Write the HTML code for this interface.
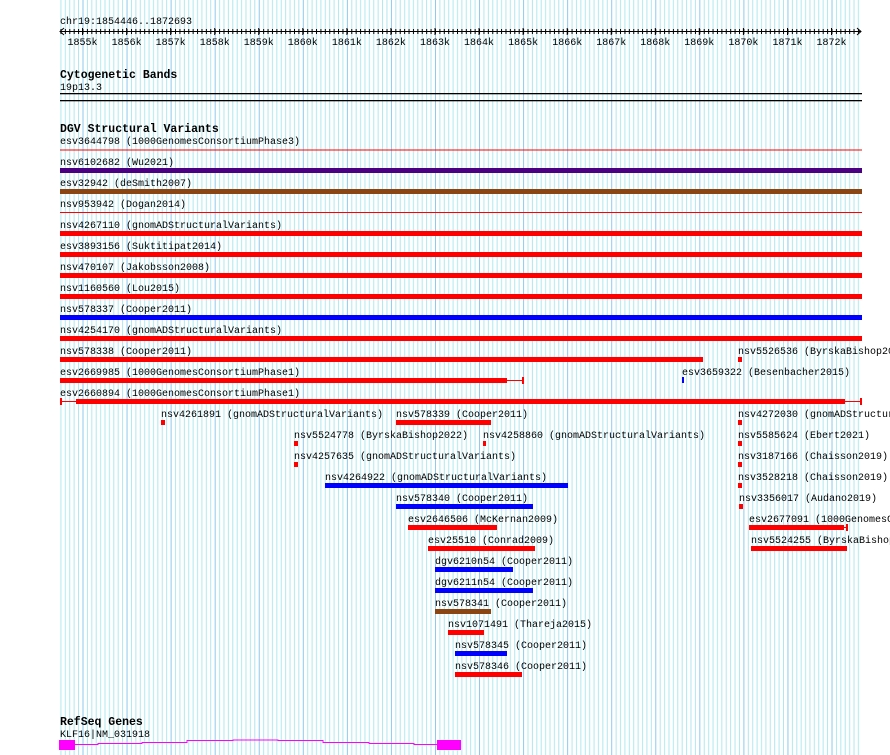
<!DOCTYPE html>
<html><head><meta charset="utf-8"><style>
html,body{margin:0;padding:0;background:#fff;}
svg{display:block;}
text{font-family:"Liberation Mono","DejaVu Sans Mono",monospace;font-size:10px;fill:#000;}
.b{font-weight:bold;font-size:11.5px;}
</style></head><body>
<svg width="890" height="755" viewBox="0 0 890 755" xmlns="http://www.w3.org/2000/svg">
<defs>
<pattern id="g" patternUnits="userSpaceOnUse" x="82.5" y="0" width="44.06" height="10">
<g stroke="#aee8ee" stroke-width="1">
<line x1="4.9" y1="0" x2="4.9" y2="10"/><line x1="9.3" y1="0" x2="9.3" y2="10"/><line x1="13.7" y1="0" x2="13.7" y2="10"/><line x1="18.1" y1="0" x2="18.1" y2="10"/><line x1="22.5" y1="0" x2="22.5" y2="10"/><line x1="26.9" y1="0" x2="26.9" y2="10"/><line x1="31.3" y1="0" x2="31.3" y2="10"/><line x1="35.7" y1="0" x2="35.7" y2="10"/><line x1="40.1" y1="0" x2="40.1" y2="10"/>
</g>
<line x1="0.5" y1="0" x2="0.5" y2="10" stroke="#8cc8ee" stroke-width="1"/>
</pattern>
<pattern id="tkp" patternUnits="userSpaceOnUse" x="82.5" y="29" width="4.406" height="5"><line x1="0.5" y1="0" x2="0.5" y2="5" stroke="#000"/></pattern>
</defs>
<rect x="60" y="0" width="800" height="755" fill="url(#g)"/>

<!-- ruler -->
<text x="60" y="24">chr19:1854446..1872693</text>
<line x1="60" y1="31.5" x2="861" y2="31.5" stroke="#000"/>
<path d="M64 28 L60 31.5 L64 35 M857 28 L861 31.5 L857 35" stroke="#000" fill="none"/>
<rect x="60" y="29" width="800" height="5" fill="url(#tkp)"/>
<path stroke="#000" d="M82.5 28v7M126.6 28v7M170.6 28v7M214.7 28v7M258.7 28v7M302.8 28v7M346.9 28v7M390.9 28v7M435 28v7M479 28v7M523.1 28v7M567.2 28v7M611.2 28v7M655.3 28v7M699.3 28v7M743.4 28v7M787.5 28v7M831.5 28v7"/>
<g font-size="10" text-anchor="middle">
<text x="82.5" y="45">1855k</text><text x="126.6" y="45">1856k</text><text x="170.6" y="45">1857k</text><text x="214.7" y="45">1858k</text><text x="258.7" y="45">1859k</text><text x="302.8" y="45">1860k</text><text x="346.9" y="45">1861k</text><text x="390.9" y="45">1862k</text><text x="435" y="45">1863k</text><text x="479" y="45">1864k</text><text x="523.1" y="45">1865k</text><text x="567.2" y="45">1866k</text><text x="611.2" y="45">1867k</text><text x="655.3" y="45">1868k</text><text x="699.3" y="45">1869k</text><text x="743.4" y="45">1870k</text><text x="787.5" y="45">1871k</text><text x="831.5" y="45">1872k</text>
</g>

<text class="b" x="60" y="78">Cytogenetic Bands</text>
<text x="60" y="90">19p13.3</text>
<rect x="60" y="93" width="802" height="1.3" fill="#000"/>
<rect x="60" y="100" width="802" height="1.3" fill="#000"/>

<text class="b" x="60" y="132">DGV Structural Variants</text>
<g>
<text x="60" y="144">esv3644798 (1000GenomesConsortiumPhase3)</text>
<rect x="60" y="149.5" width="802" height="1" fill="#f00"/>
<text x="60" y="165">nsv6102682 (Wu2021)</text>
<rect x="60" y="168" width="802" height="5" fill="#4b0082"/>
<text x="60" y="186">esv32942 (deSmith2007)</text>
<rect x="60" y="189" width="802" height="5" fill="#8b4513"/>
<text x="60" y="207">nsv953942 (Dogan2014)</text>
<rect x="60" y="212" width="802" height="1" fill="#f00"/>
<text x="60" y="228">nsv4267110 (gnomADStructuralVariants)</text>
<rect x="60" y="231" width="802" height="5" fill="#f00"/>
<text x="60" y="249">esv3893156 (Suktitipat2014)</text>
<rect x="60" y="252" width="802" height="5" fill="#f00"/>
<text x="60" y="270">nsv470107 (Jakobsson2008)</text>
<rect x="60" y="273" width="802" height="5" fill="#f00"/>
<text x="60" y="291">nsv1160560 (Lou2015)</text>
<rect x="60" y="294" width="802" height="5" fill="#f00"/>
<text x="60" y="312">nsv578337 (Cooper2011)</text>
<rect x="60" y="315" width="802" height="5" fill="#00f"/>
<text x="60" y="333">nsv4254170 (gnomADStructuralVariants)</text>
<rect x="60" y="336" width="802" height="5" fill="#f00"/>

<text x="60" y="354">nsv578338 (Cooper2011)</text>
<rect x="60" y="357" width="643" height="5" fill="#f00"/>
<text x="738" y="354">nsv5526536 (ByrskaBishop2022)</text>
<rect x="738" y="357" width="4" height="5" fill="#f00"/>

<text x="60" y="375">esv2669985 (1000GenomesConsortiumPhase1)</text>
<rect x="60" y="378" width="447" height="5" fill="#f00"/>
<rect x="507" y="380" width="16" height="1" fill="#f00"/><rect x="522" y="377" width="2" height="7" fill="#f00"/>
<text x="682" y="375">esv3659322 (Besenbacher2015)</text>
<rect x="682" y="377" width="2" height="6" fill="#00f"/>

<text x="60" y="396">esv2660894 (1000GenomesConsortiumPhase1)</text>
<rect x="60" y="398" width="2" height="7" fill="#f00"/><rect x="60" y="401" width="16" height="1" fill="#f00"/>
<rect x="76" y="399" width="769" height="5" fill="#f00"/>
<rect x="845" y="401" width="16" height="1" fill="#f00"/><rect x="860" y="398" width="2" height="7" fill="#f00"/>

<text x="161" y="417">nsv4261891 (gnomADStructuralVariants)</text>
<rect x="161" y="420" width="4" height="5" fill="#f00"/>
<text x="396" y="417">nsv578339 (Cooper2011)</text>
<rect x="396" y="420" width="95" height="5" fill="#f00"/>
<text x="738" y="417">nsv4272030 (gnomADStructuralVariants)</text>
<rect x="738" y="420" width="4" height="5" fill="#f00"/>

<text x="294" y="438">nsv5524778 (ByrskaBishop2022)</text>
<rect x="294" y="441" width="4" height="5" fill="#f00"/>
<text x="483" y="438">nsv4258860 (gnomADStructuralVariants)</text>
<rect x="483" y="441" width="3" height="5" fill="#f00"/>
<text x="738" y="438">nsv5585624 (Ebert2021)</text>
<rect x="738" y="441" width="4" height="5" fill="#f00"/>

<text x="294" y="459">nsv4257635 (gnomADStructuralVariants)</text>
<rect x="294" y="462" width="4" height="5" fill="#f00"/>
<text x="738" y="459">nsv3187166 (Chaisson2019)</text>
<rect x="738" y="462" width="4" height="5" fill="#f00"/>

<text x="325" y="480">nsv4264922 (gnomADStructuralVariants)</text>
<rect x="325" y="483" width="243" height="5" fill="#00f"/>
<text x="738" y="480">nsv3528218 (Chaisson2019)</text>
<rect x="738" y="483" width="4" height="5" fill="#f00"/>

<text x="396" y="501">nsv578340 (Cooper2011)</text>
<rect x="396" y="504" width="137" height="5" fill="#00f"/>
<text x="739" y="501">nsv3356017 (Audano2019)</text>
<rect x="739" y="504" width="4" height="5" fill="#f00"/>

<text x="408" y="522">esv2646506 (McKernan2009)</text>
<rect x="408" y="525" width="89" height="5" fill="#f00"/>
<text x="749" y="522">esv2677091 (1000GenomesConsortiumPhase1)</text>
<rect x="749" y="525" width="95" height="5" fill="#f00"/>
<rect x="844" y="527" width="3" height="1" fill="#f00"/><rect x="846" y="524" width="2" height="7" fill="#f00"/>

<text x="428" y="543">esv25510 (Conrad2009)</text>
<rect x="428" y="546" width="107" height="5" fill="#f00"/>
<text x="751" y="543">nsv5524255 (ByrskaBishop2022)</text>
<rect x="751" y="546" width="96" height="5" fill="#f00"/>

<text x="435" y="564">dgv6210n54 (Cooper2011)</text>
<rect x="435" y="567" width="78" height="5" fill="#00f"/>
<text x="435" y="585">dgv6211n54 (Cooper2011)</text>
<rect x="435" y="588" width="98" height="5" fill="#00f"/>
<text x="435" y="606">nsv578341 (Cooper2011)</text>
<rect x="435" y="609" width="56" height="5" fill="#8b4513"/>
<text x="448" y="627">nsv1071491 (Thareja2015)</text>
<rect x="448" y="630" width="36" height="5" fill="#f00"/>
<text x="455" y="648">nsv578345 (Cooper2011)</text>
<rect x="455" y="651" width="52" height="5" fill="#00f"/>
<text x="455" y="669">nsv578346 (Cooper2011)</text>
<rect x="455" y="672" width="67" height="5" fill="#f00"/>
</g>

<text class="b" x="60" y="725">RefSeq Genes</text>
<text x="60" y="737">KLF16|NM_031918</text>
<polyline fill="none" stroke="#f0f" stroke-width="1" points="75,744.5 98,744.5 98,743.5 142,743.5 142,742.5 187,742.5 187,740.5 233,740.5 233,740 278,740 278,740.5 323,740.5 323,742.5 369,742.5 369,743.5 414,743.5 414,744.5 437,744.5"/>
<rect x="59" y="740" width="16" height="10" fill="#f0f"/>
<rect x="437" y="740" width="24" height="10" fill="#f0f"/>
</svg>
</body></html>
